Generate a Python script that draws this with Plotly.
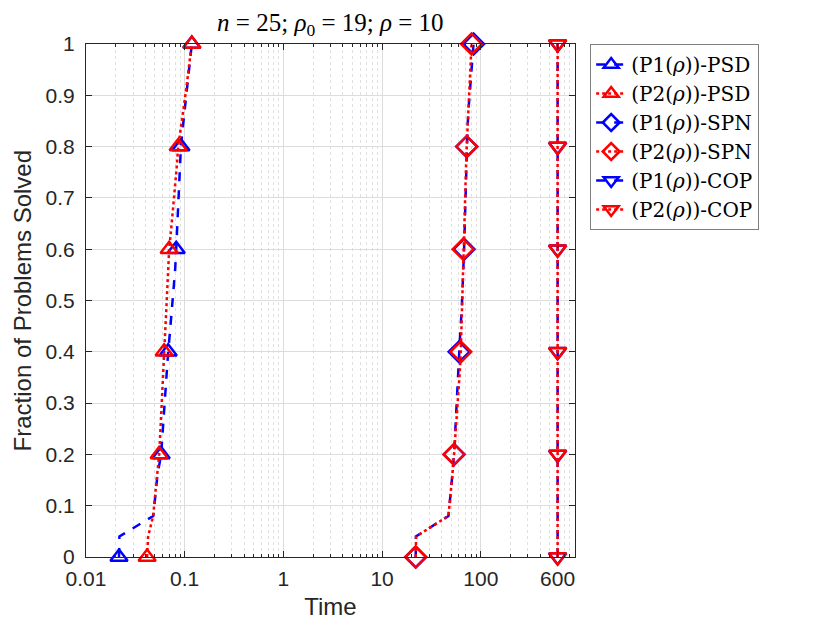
import numpy as np
import plotly.graph_objects as go

# fraction of problems solved (26 points, 25 problems)
fraction = [i / 25 for i in range(26)]

# sorted solve times (seconds)
p1_psd = [0.0216, 0.0218, 0.0480, 0.0505, 0.0530, 0.0577, 0.0595, 0.0610, 0.0630,
          0.0655, 0.0680, 0.0710, 0.0740, 0.0770, 0.0800, 0.0820, 0.0840, 0.0860,
          0.0880, 0.0900, 0.0915, 0.0960, 0.1010, 0.1060, 0.1110, 0.1180]
p2_psd = [0.0416, 0.0426, 0.0479, 0.0500, 0.0525, 0.0551, 0.0565, 0.0580, 0.0595,
          0.0607, 0.0619, 0.0635, 0.0650, 0.0665, 0.0680, 0.0696, 0.0730, 0.0765,
          0.0800, 0.0830, 0.0859, 0.0920, 0.0990, 0.1050, 0.1110, 0.1180]
p1_spn = [21.9, 22.0, 47.0, 49.5, 51.5, 53.6, 54.8, 56.0, 57.5, 59.0, 60.2, 62.0,
          64.0, 65.5, 66.8, 67.7, 68.6, 69.5, 70.5, 71.3, 72.0, 73.5, 75.5, 78.0,
          81.0, 84.4]
p2_spn = [21.9, 22.1, 47.0, 49.5, 51.5, 53.6, 55.5, 57.5, 59.5, 61.2, 62.7, 63.5,
          64.3, 65.0, 65.6, 66.1, 67.2, 68.4, 69.6, 70.8, 72.0, 73.5, 75.5, 77.5,
          79.0, 80.5]
p1_cop = [600] * 26
p2_cop = [600] * 26

x_ticks = [0.01, 0.1, 1, 10, 100, 600]
x_ticktext = ["0.01", "0.1", "1", "10", "100", "600"]
y_ticks = [round(0.1 * i, 1) for i in range(11)]
y_ticktext = ["0", "0.1", "0.2", "0.3", "0.4", "0.5", "0.6", "0.7", "0.8", "0.9", "1"]

series = [
    ("(P1(<i>ρ</i>))-PSD", p1_psd, "blue", "dash", "triangle-up-open", 15),
    ("(P2(<i>ρ</i>))-PSD", p2_psd, "red", "dot", "triangle-up-open", 15),
    ("(P1(<i>ρ</i>))-SPN", p1_spn, "blue", "dash", "diamond-open", 16),
    ("(P2(<i>ρ</i>))-SPN", p2_spn, "red", "dot", "diamond-open", 16),
    ("(P1(<i>ρ</i>))-COP", p1_cop, "blue", "dash", "triangle-down-open", 15),
    ("(P2(<i>ρ</i>))-COP", p2_cop, "red", "dot", "triangle-down-open", 15),
]

fig = go.Figure()
for k, (name, xs, col, dash, sym, sz) in enumerate(series):
    grp = "g%d" % k
    ln = dict(color=col, dash=dash, width=2.5)
    mk = dict(symbol=sym, size=sz, color=col, line=dict(width=2.5, color=col))
    # the curve
    fig.add_trace(go.Scatter(x=xs, y=fraction, mode="lines", line=ln,
                             legendgroup=grp, showlegend=False, cliponaxis=False))
    # markers on every 5th point
    fig.add_trace(go.Scatter(x=xs[::5], y=fraction[::5], mode="markers", marker=mk,
                             legendgroup=grp, showlegend=False, cliponaxis=False))
    # legend entry
    fig.add_trace(go.Scatter(x=[None], y=[None], mode="lines+markers", name=name,
                             line=ln, marker=dict(mk, size=13), legendgroup=grp))

minor_vals = [k * 10.0 ** e for e in range(-2, 3) for k in range(2, 10) if k * 10.0 ** e < 900]

axis_col = "#262626"
fig.update_xaxes(
    type="log", range=[-2, np.log10(900)],
    tickmode="array", tickvals=x_ticks, ticktext=x_ticktext,
    ticks="inside", ticklen=6, tickcolor=axis_col,
    showline=True, linecolor=axis_col, linewidth=1, mirror="ticks",
    showgrid=True, gridcolor="#dcdcdc", gridwidth=1,
    minor=dict(tickvals=minor_vals, ticks="inside", ticklen=3, tickcolor=axis_col,
               showgrid=True, gridcolor="#e0e0e0", griddash="dot"),
    tickfont=dict(size=21, color=axis_col), ticklabelstandoff=3,
    title=dict(text="Time", font=dict(size=24, color=axis_col), standoff=8),
    zeroline=False,
)
fig.update_yaxes(
    range=[0, 1], tickmode="array", tickvals=y_ticks, ticktext=y_ticktext,
    ticks="inside", ticklen=6, tickcolor=axis_col,
    showline=True, linecolor=axis_col, linewidth=1, mirror="ticks",
    showgrid=True, gridcolor="#dcdcdc", gridwidth=1,
    tickfont=dict(size=21, color=axis_col), ticklabelstandoff=6,
    zeroline=False,
)

# y label placed as an annotation to sit where the original has it
fig.add_annotation(text="Fraction of Problems Solved", textangle=-90,
                   xref="paper", yref="paper", x=-0.129, y=0.5,
                   xanchor="center", yanchor="middle", showarrow=False,
                   font=dict(size=24, color=axis_col))

# the page adds an 8px body margin, so the margins are shifted by it
fig.update_layout(
    width=830, height=623,
    margin=dict(l=78, r=263, t=36, b=74),
    paper_bgcolor="white", plot_bgcolor="white",
    font=dict(family="Liberation Sans, Arial, sans-serif"),
    title=dict(text="<i>n</i> = 25; <i>ρ</i><sub>0</sub> = 19; <i>ρ</i> = 10",
               x=0.398 - 8 / 830, xanchor="center", y=1 - 14 / 623, yanchor="middle",
               font=dict(family="Liberation Serif, serif", size=25, color="black")),
    legend=dict(x=1.031, y=1, xanchor="left", yanchor="top",
                bordercolor="#7f7f7f", borderwidth=1, bgcolor="white",
                font=dict(family="DejaVu Serif, serif", size=20, color="black"),
                itemwidth=30, tracegroupgap=0),
)

fig.write_html("out.html")
